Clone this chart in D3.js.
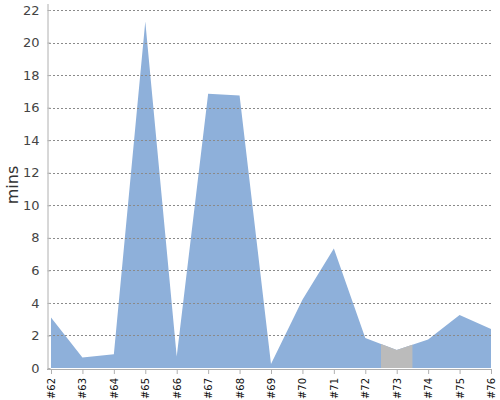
<!DOCTYPE html>
<html>
<head>
<meta charset="utf-8">
<script src="https://cdn.jsdelivr.net/npm/d3@7"></script>
<style>
  body { margin: 0; background: #fff; }
  svg { display: block; font-family: "DejaVu Sans", sans-serif; }
</style>
</head>
<body>
<svg id="chart" width="500" height="400"></svg>
<script>
// chart data
const builds = ['#62', '#63', '#64', '#65', '#66', '#67', '#68', '#69', '#70', '#71', '#72', '#73', '#74', '#75', '#76'];
const durations = [3.1, 0.65, 0.85, 21.3, 0.7, 16.85, 16.75, 0.25, 4.2, 7.35, 1.85, 1.1, 1.75, 3.25, 2.4];
const highlighted = '#73';
const yTicks = [0, 2, 4, 6, 8, 10, 12, 14, 16, 18, 20, 22];

const width = 500, height = 400;
const margin = { top: 10, right: 9, bottom: 32, left: 51 };

const svg = d3.select('#chart');

const x = d3.scalePoint()
  .domain(builds)
  .range([margin.left, width - margin.right]);

const y = d3.scaleLinear()
  .domain([0, 22])
  .range([height - margin.bottom, margin.top]);

const data = builds.map((b, i) => ({ build: b, value: durations[i] }));

const area = d3.area()
  .x(d => x(d.build))
  .y0(y(0))
  .y1(d => y(d.value));

// main area
svg.append('path')
  .datum(data)
  .attr('fill', '#8eb0da')
  .attr('d', area);

// grey band for the highlighted build
const step = x.step();
const hx = x(highlighted);
svg.append('clipPath')
  .attr('id', 'hl-clip')
  .append('rect')
    .attr('x', hx - step / 2)
    .attr('y', 0)
    .attr('width', step)
    .attr('height', height);

svg.append('path')
  .datum(data)
  .attr('fill', '#bbbbbb')
  .attr('clip-path', 'url(#hl-clip)')
  .attr('d', area);

// dashed gridlines on top of the area
svg.append('g')
  .selectAll('line')
  .data(yTicks.filter(t => t > 0))
  .join('line')
    .attr('x1', margin.left - 2)
    .attr('x2', width - margin.right)
    .attr('y1', d => Math.round(y(d)) + 0.5)
    .attr('y2', d => Math.round(y(d)) + 0.5)
    .attr('stroke', '#8a8a8a')
    .attr('stroke-width', 1)
    .attr('stroke-dasharray', '2,2');

// y axis
const yAxis = svg.append('g')
  .attr('transform', `translate(${margin.left - 3.5},0)`)
  .call(d3.axisLeft(y).tickValues(yTicks).tickSize(4).tickSizeOuter(0).tickPadding(4));
yAxis.select('.domain')
  .attr('stroke', '#b0b0b0')
  .attr('d', `M0.5,${margin.top - 6}V${y(0) + 0.5}`);
yAxis.selectAll('.tick line').attr('stroke', '#b0b0b0').attr('x1', 0).attr('x2', 3);
yAxis.selectAll('.tick text')
  .attr('fill', '#444')
  .style('font-size', '13px')
  .style('font-family', '"DejaVu Sans", sans-serif');

// x axis
const xAxis = svg.append('g')
  .attr('transform', `translate(0,${y(0) + 1})`)
  .call(d3.axisBottom(x).tickSize(5).tickSizeOuter(0));
xAxis.select('.domain')
  .attr('stroke', '#b0b0b0')
  .attr('d', `M${margin.left - 4},0.5H${width - margin.right + 1}`);
xAxis.selectAll('.tick line').attr('stroke', '#b0b0b0');
xAxis.selectAll('.tick text')
  .attr('fill', '#111')
  .style('font-size', '10px')
  .style('font-family', '"DejaVu Sans", sans-serif')
  .attr('text-anchor', 'end')
  .attr('transform', 'rotate(-90)')
  .attr('x', -9)
  .attr('y', 0)
  .attr('dy', '0.35em');

// y axis title
svg.append('text')
  .attr('transform', `translate(18,${(margin.top + y(0)) / 2 - 4}) rotate(-90)`)
  .attr('text-anchor', 'middle')
  .attr('fill', '#333')
  .style('font-size', '16px')
  .text('mins');
</script>
</body>
</html>
